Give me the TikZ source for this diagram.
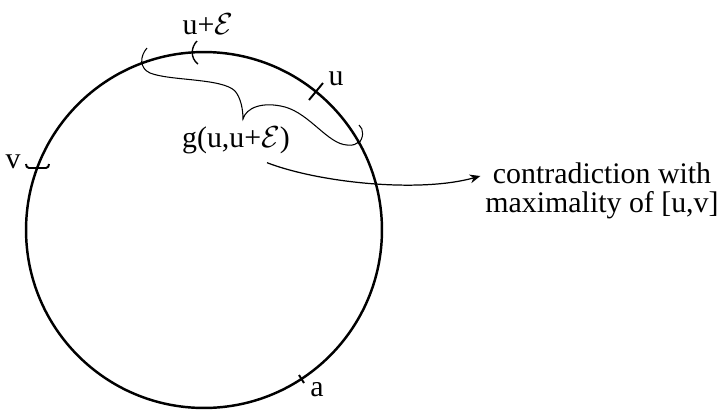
\documentclass[tikz,border=0pt]{standalone}
\usepackage{fontspec}
\setmainfont{Liberation Serif}
\usetikzlibrary{arrows.meta,positioning,calc}

\begin{document}
\begin{tikzpicture}[x=0.02cm,y=-0.02cm,font=\fontsize{17}{16.5}\selectfont]
\tikzset{lbl/.style={inner sep=1pt},tk/.style={line width=1.1pt},br/.style={line width=.6pt},arr/.style={-{Stealth[length=6pt,width=5pt]},line width=.7pt}}
\useasboundingbox (0,0) rectangle (717,410);
\coordinate (o) at (204,230);
\draw[line width=1.4pt] (o) circle[radius=3.56cm];
% marks on the circle
\draw[tk] (309,100) -- (323,83);
\draw[tk] (299,375) -- (304,383);
\draw[tk] (26,164) .. controls (26,166) and (27,168) .. (29,168) -- (46,168) .. controls (48,168) and (49,166) .. (49,164);
\draw[br,line width=.8pt] (197,41) .. controls (191,47) and (190,58) .. (198,64);
% brace
\draw[br] (147,48) .. controls (140,56) and (139,68) .. (150,73) .. controls (170,81) and (222,78) .. (235,91) .. controls (241,98) and (243,110) .. (243,119) .. controls (246,108) and (262,101) .. (285,107) .. controls (310,114) and (328,144) .. (347,145) .. controls (353,146) and (357,144) .. (359,141);
\draw[br] (359,125) .. controls (364,129) and (364,138) .. (358,144);
\node[lbl] (ue) at (208,24) {u+$\mathcal{E}$};
\node[lbl] (ul) at (336,79) {u};
\node[lbl] (vl) at (13,162) {v};
\node[lbl] (al) at (317,390) {a};
\node[lbl] (gl) at (236,140) {g(u,u+$\mathcal{E}$)};
\node[lbl,align=center] (ct) at (602,191) {contradiction with\\maximality of [u,v]};
\draw[arr] ([shift={(31,7)}]gl.south) .. controls (320,183) and (420,193) .. ([shift={(-3,-15)}]ct.west);
\end{tikzpicture}
\end{document}
